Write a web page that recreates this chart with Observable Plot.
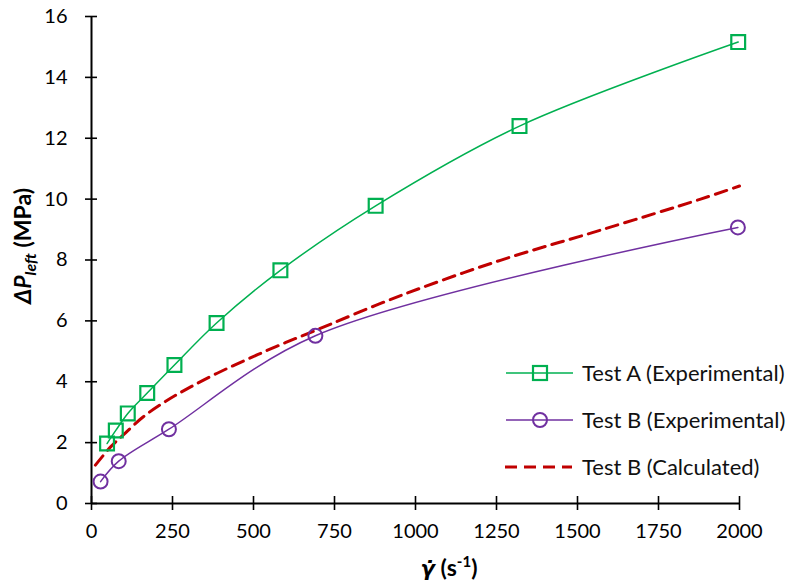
<!DOCTYPE html>
<html>
<head>
<meta charset="utf-8">
<script src="https://cdn.jsdelivr.net/npm/d3@7"></script>
<script src="https://cdn.jsdelivr.net/npm/@observablehq/plot@0.6"></script>
<style>
  html, body { margin: 0; padding: 0; background: #fff; }
  #chart { width: 790px; height: 584px; }
</style>
</head>
<body>
<div id="chart"></div>
<script>
// ---- data ----
const testAX = [48, 75, 112, 172, 256, 386, 583, 877, 1321, 1996];
const testAY = [1.97, 2.40, 2.96, 3.63, 4.55, 5.93, 7.66, 9.78, 12.40, 15.16];

const testBX = [28, 84, 239, 691, 1995];
const testBY = [0.72, 1.39, 2.44, 5.51, 9.07];

const calcX = [12, 59, 99, 160, 234, 306, 388, 481, 573, 685, 954, 1262, 1571, 1880, 2000];
const calcY = [1.26, 1.86, 2.26, 2.85, 3.39, 3.83, 4.28, 4.74, 5.17, 5.66, 6.83, 7.99, 8.98, 10.0, 10.43];

const xTicks = [0, 250, 500, 750, 1000, 1250, 1500, 1750, 2000];
const yTicks = [0, 2, 4, 6, 8, 10, 12, 14, 16];

const seriesNames = ["Test A (Experimental)", "Test B (Experimental)", "Test B (Calculated)"];
const colors = ["#00B050", "#7030A0", "#C00000"];

// ---- tables built from the arrays ----
const A = testAX.map((x, i) => ({x, y: testAY[i]}));
const B = testBX.map((x, i) => ({x, y: testBY[i]}));
const C = calcX.map((x, i) => ({x, y: calcY[i]}));

const font = "Lato, 'Open Sans', sans-serif";

const chart = Plot.plot({
  width: 790,
  height: 584,
  marginLeft: 91,
  marginRight: 51,
  marginTop: 16,
  marginBottom: 81,
  x: {domain: [0, 2000]},
  y: {domain: [0, 16]},
  style: {fontFamily: font, fontSize: "20px", color: "#000", background: "#fff"},
  marks: [
    Plot.axisX({ticks: xTicks, tickSize: 0, tickPadding: 20, label: null, tickFormat: d => String(d)}),
    Plot.axisY({ticks: yTicks, tickSize: 0, tickPadding: 24, label: null, tickFormat: d => String(d)}),
    // axis lines
    Plot.ruleY([0], {x1: 0, x2: 2000, stroke: "#000", strokeWidth: 2}),
    Plot.ruleX([0], {y1: 0, y2: 16, stroke: "#000", strokeWidth: 2}),
    // crossing ticks
    Plot.ruleY(yTicks, {y: d => d, x1: 0, x2: 0, insetLeft: -6, insetRight: -6, stroke: "#000", strokeWidth: 1.6}),
    Plot.ruleX(xTicks, {x: d => d, y1: 0, y2: 0, insetTop: -7, insetBottom: -7, stroke: "#000", strokeWidth: 1.6}),
    // series
    Plot.line(C, {x: "x", y: "y", curve: "catmull-rom", stroke: colors[2], strokeWidth: 3, strokeDasharray: "12,7"}),
    Plot.line(A, {x: "x", y: "y", curve: "catmull-rom", stroke: colors[0], strokeWidth: 1.5}),
    Plot.line(B, {x: "x", y: "y", curve: "catmull-rom", stroke: colors[1], strokeWidth: 1.5}),
    Plot.dot(A, {x: "x", y: "y", symbol: "square", r: 7.8, stroke: colors[0], strokeWidth: 2.2, fill: "none"}),
    Plot.dot(B, {x: "x", y: "y", symbol: "circle", r: 7, stroke: colors[1], strokeWidth: 2, fill: "none"})
  ]
});

document.getElementById("chart").appendChild(chart);

const svg = d3.select(chart);

// y-axis title
const yt = svg.append("text")
  .attr("transform", "translate(31,246) rotate(-90)")
  .attr("text-anchor", "middle")
  .attr("font-family", font)
  .attr("font-size", 23)
  .attr("font-weight", "bold")
  .attr("fill", "#000");
yt.append("tspan").attr("font-style", "italic").text("ΔP");
yt.append("tspan").attr("font-style", "italic").attr("font-size", 16).attr("dy", 5).text("left");
yt.append("tspan").attr("dy", -5).text(" (MPa)");

// x-axis title
const xt = svg.append("text")
  .attr("x", 449)
  .attr("y", 576)
  .attr("text-anchor", "middle")
  .attr("font-family", font)
  .attr("font-size", 23)
  .attr("font-weight", "bold")
  .attr("fill", "#000");
xt.append("tspan").attr("font-style", "italic").attr("font-family", "'DejaVu Sans', sans-serif").attr("font-size", 21).text("γ\u0307");
xt.append("tspan").text(" (s");
xt.append("tspan").attr("font-size", 15).attr("dy", -9).text("-1");
xt.append("tspan").attr("dy", 9).text(")");

// legend
const legRows = [373, 420, 467];
const lg = svg.append("g").attr("font-family", font).attr("font-size", 22).attr("text-anchor", "start");
seriesNames.forEach((name, i) => {
  const y = legRows[i];
  const line = lg.append("line")
    .attr("x1", 506).attr("x2", 573).attr("y1", y).attr("y2", y)
    .attr("stroke", colors[i]);
  if (i === 2) {
    line.attr("stroke-width", 3).attr("stroke-dasharray", "12,7").attr("x1", 505).attr("x2", 572);
  } else {
    line.attr("stroke-width", 1.5);
  }
  if (i === 0) {
    lg.append("rect").attr("x", 533).attr("y", y - 7).attr("width", 14).attr("height", 14)
      .attr("fill", "none").attr("stroke", colors[0]).attr("stroke-width", 2.2);
  } else if (i === 1) {
    lg.append("circle").attr("cx", 540).attr("cy", y).attr("r", 7)
      .attr("fill", "none").attr("stroke", colors[1]).attr("stroke-width", 2);
  }
  lg.append("text").attr("x", 582).attr("y", y).attr("dy", "0.35em").attr("fill", "#111")
    .attr("text-anchor", "start").text(name);
});
</script>
</body>
</html>
